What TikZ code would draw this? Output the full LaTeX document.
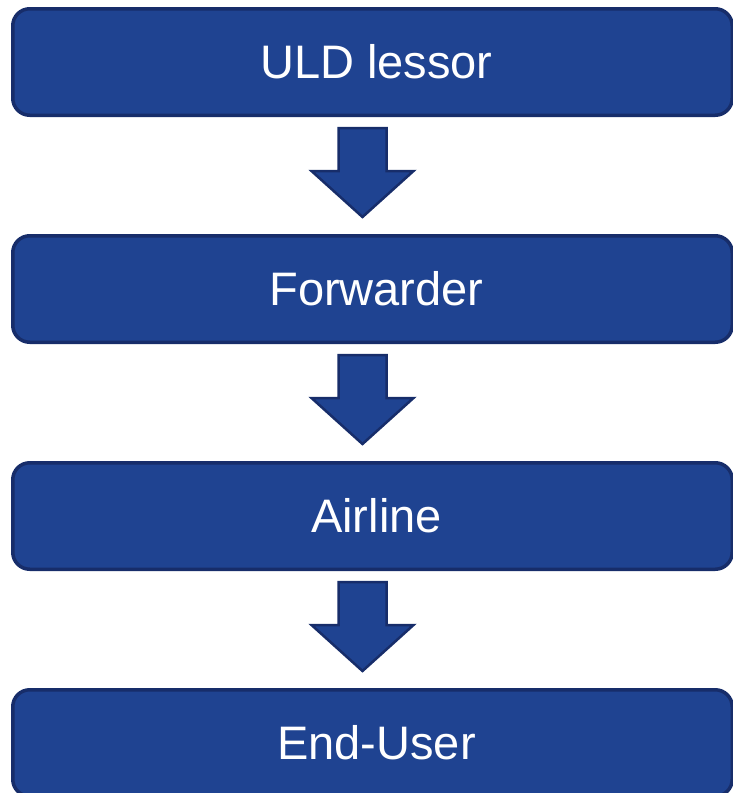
\documentclass[tikz,border=0pt]{standalone}
\usepackage{fontspec}
\setmainfont{Liberation Sans}
\definecolor{boxfill}{RGB}{31,67,145}
\definecolor{boxline}{RGB}{23,45,106}
\begin{document}
\begin{tikzpicture}[
                x = 1pt, y = -1pt,
                stage/.style = {draw = boxline, fill = boxfill, line width = 3.5pt, rounded corners = 17pt,
                                minimum width = 719.5pt, minimum height = 106.5pt, inner sep = 0pt,
                                text = white, font = \fontsize{47}{56}\selectfont,
                                execute at begin node = {\hspace*{8pt}}},
                blockarr/.style = {draw = boxline, fill = boxfill, line width = 2.5pt, line join = miter},
            ]
            \useasboundingbox (0, 0) rectangle (733, 793);

            \node (lessor) at (372.5, 62) [stage] {ULD lessor};
            \node (forwarder) at (372.5, 289) [stage] {Forwarder};
            \node (airline) at (372.5, 516) [stage] {Airline};
            \node (enduser) at (372.5, 743) [stage] {End-User};

            \foreach \from in {lessor, forwarder, airline}
                \path[blockarr] ([xshift = -34pt, yshift = -11pt]\from.south)
                    -- ++(0, 43) -- ++(-27, 0) -- ++(51, 46) -- ++(51, -46)
                    -- ++(-27, 0) -- ++(0, -43) -- cycle;
        \end{tikzpicture}
\end{document}
